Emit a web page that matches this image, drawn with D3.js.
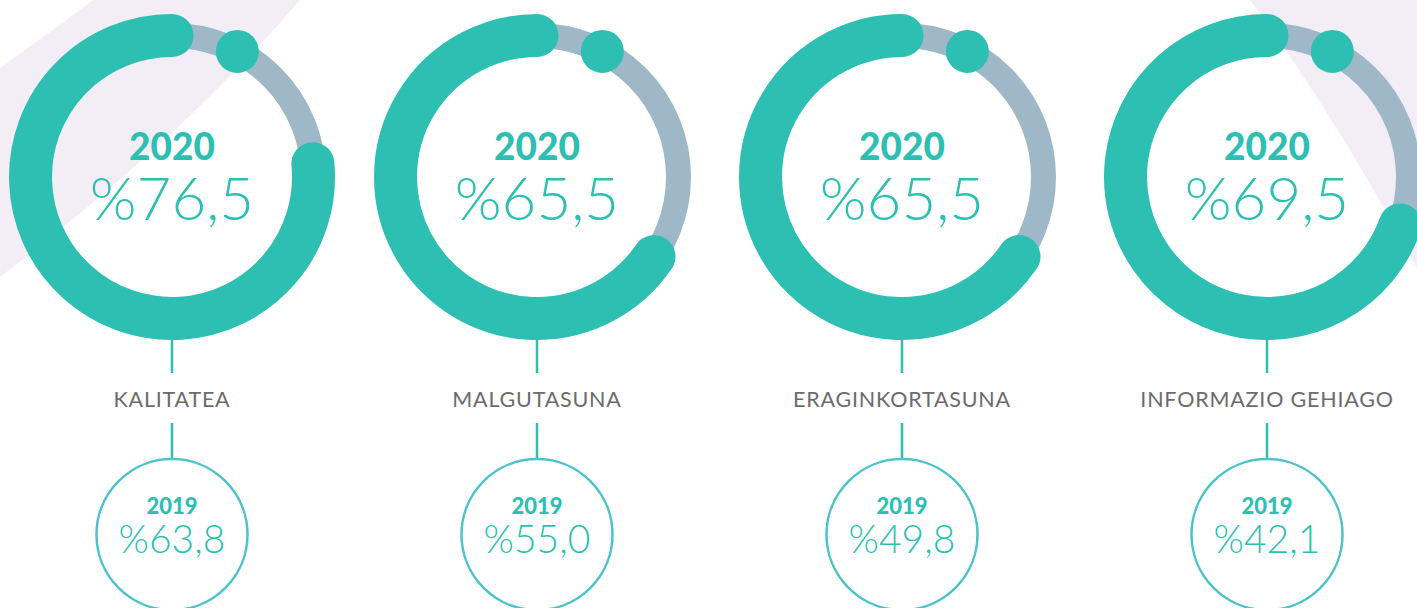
<!DOCTYPE html>
<html lang="eu">
<head>
<meta charset="UTF-8">
<script src="https://d3js.org/d3.v7.min.js"></script>
<style>
body { margin: 0; background: #fff; }
svg { display: block; }
.big-year { font-family: Lato, sans-serif; font-weight: 900; fill: #2ebfb3; }
.big-val { font-family: Lato, sans-serif; font-weight: 300; fill: #2ebfb3; }
.label { font-family: Lato, sans-serif; font-weight: 400; fill: #6d6a6b; letter-spacing: 0.8px; }
</style>
</head>
<body>
<svg></svg>
<script>
// data
const categories = ["KALITATEA", "MALGUTASUNA", "ERAGINKORTASUNA", "INFORMAZIO GEHIAGO"];
const values2020 = [76.5, 65.5, 65.5, 69.5];
const values2019 = [63.8, 55.0, 49.8, 42.1];
const yearLabels = ["2020", "2019"];

const width = 1417, height = 608;
const teal = "#2ebfb3", ringGray = "#9fb8c7", lav = "#f3eef6", circleStroke = "#4cc2cb";

const svg = d3.select("svg").attr("width", width).attr("height", height);

// decorative background shapes
svg.append("path")
  .attr("d", "M-20,82 Q40,40 93,0 L300,0 Q180,140 0,277 L-20,290 Z")
  .attr("fill", lav);
svg.append("path")
  .attr("d", "M1250,0 Q1335,115 1417,268 L1417,0 Z")
  .attr("fill", lav);

const x = d3.scalePoint().domain(categories).range([172, 1267]);
const angle = d3.scaleLinear().domain([0, 100]).range([0, 2 * Math.PI]);

const locale = d3.formatLocale({decimal: ",", thousands: ".", grouping: [3], currency: ["", "€"]});
const fmt = locale.format(".1f");

const cy = 177, r = 141.5;
const dotAngle = 27.5; // degrees clockwise from top, decorative marker

categories.forEach(function(cat, i) {
  const cx = x(cat);
  const g = svg.append("g").attr("transform", "translate(" + cx + "," + cy + ")");

  // background ring
  g.append("circle")
    .attr("r", r)
    .attr("fill", "none")
    .attr("stroke", ringGray)
    .attr("stroke-width", 25);

  // 2020 arc, counterclockwise from top
  const p = d3.path();
  const a0 = -Math.PI / 2;
  const a1 = a0 - angle(values2020[i]);
  p.moveTo(r * Math.cos(a0), r * Math.sin(a0));
  p.arc(0, 0, r, a0, a1, true);
  g.append("path")
    .attr("d", p.toString())
    .attr("fill", "none")
    .attr("stroke", teal)
    .attr("stroke-width", 43)
    .attr("stroke-linecap", "round");

  // small dot on ring
  const da = dotAngle * Math.PI / 180;
  g.append("circle")
    .attr("cx", r * Math.sin(da))
    .attr("cy", -r * Math.cos(da))
    .attr("r", 21.5)
    .attr("fill", teal);

  g.append("text")
    .attr("class", "big-year")
    .attr("text-anchor", "middle")
    .attr("y", -17)
    .style("font-size", "37px")
    .text(yearLabels[0]);
  g.append("text")
    .attr("class", "big-val")
    .attr("text-anchor", "middle")
    .attr("y", 43)
    .style("font-size", "60px")
    .text("%" + fmt(values2020[i]));

  // connectors and label
  svg.append("line")
    .attr("x1", cx).attr("x2", cx)
    .attr("y1", cy + 160).attr("y2", 373)
    .attr("stroke", teal).attr("stroke-width", 2.5);
  svg.append("text")
    .attr("class", "label")
    .attr("x", cx)
    .attr("y", 407)
    .attr("text-anchor", "middle")
    .style("font-size", "21.5px")
    .text(cat);
  svg.append("line")
    .attr("x1", cx).attr("x2", cx)
    .attr("y1", 423).attr("y2", 459)
    .attr("stroke", teal).attr("stroke-width", 2.5);

  // 2019 circle
  const c = svg.append("g").attr("transform", "translate(" + cx + ",534.5)");
  c.append("circle")
    .attr("r", 75.5)
    .attr("fill", "#fff")
    .attr("stroke", circleStroke)
    .attr("stroke-width", 2.5);
  c.append("text")
    .attr("class", "big-year")
    .attr("text-anchor", "middle")
    .attr("y", -21)
    .style("font-size", "22px")
    .text(yearLabels[1]);
  c.append("text")
    .attr("class", "big-val")
    .attr("text-anchor", "middle")
    .attr("y", 18.5)
    .style("font-size", "39px")
    .text("%" + fmt(values2019[i]));
});
</script>
</body>
</html>
